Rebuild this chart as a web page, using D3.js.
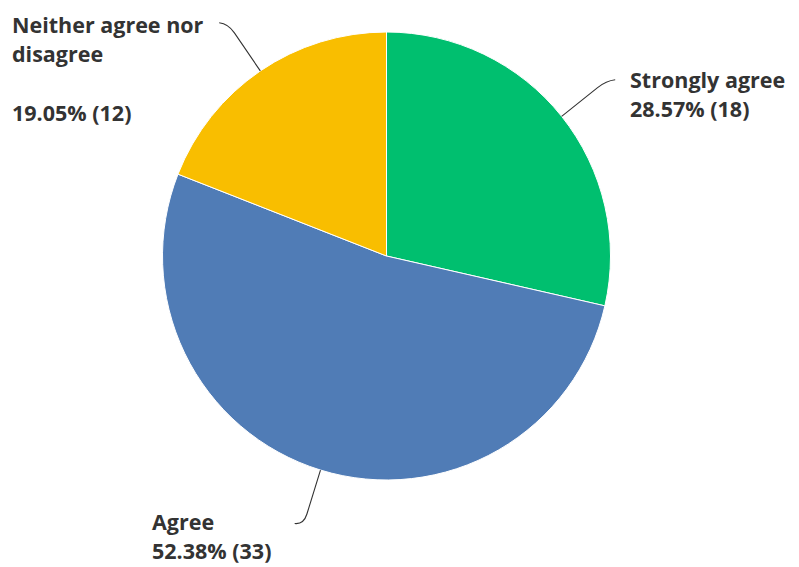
<!DOCTYPE html>
<html>
<head>
<meta charset="utf-8">
<script src="https://cdn.jsdelivr.net/npm/d3@7"></script>
<style>
  html, body { margin: 0; padding: 0; background: #fff; }
  svg text { font-family: "Open Sans", sans-serif; font-weight: 700; fill: #333; }
</style>
</head>
<body>
<svg id="chart" width="799" height="567"></svg>
<script>
// Survey response breakdown
const categories = ["Strongly agree", "Agree", "Neither agree nor disagree"];
const counts = [18, 33, 12];
const percents = ["28.57%", "52.38%", "19.05%"];
const colors = ["#00bf6f", "#507cb6", "#f9be00"];

const width = 799, height = 567;
const cx = 386.5, cy = 256, radius = 224;

const svg = d3.select("#chart");
const g = svg.append("g").attr("transform", `translate(${cx},${cy})`);

const pie = d3.pie().sort(null).value(d => d.count);
const data = categories.map((c, i) => ({ name: c, count: counts[i], pct: percents[i], color: colors[i] }));
const arcs = pie(data);

const arc = d3.arc().innerRadius(0).outerRadius(radius);

g.selectAll("path.slice")
  .data(arcs)
  .enter().append("path")
  .attr("class", "slice")
  .attr("d", arc)
  .attr("fill", d => d.data.color)
  .attr("stroke", "#fff")
  .attr("stroke-width", 1);

// Leader lines: radial segment ending in a short horizontal hook
const polar = (r, a) => [r * Math.sin(a), -r * Math.cos(a)];
g.selectAll("path.leader")
  .data(arcs)
  .enter().append("path")
  .attr("class", "leader")
  .attr("fill", "none")
  .attr("stroke", "#333")
  .attr("stroke-width", 1.1)
  .attr("d", d => {
    const a = (d.startAngle + d.endAngle) / 2;
    const p0 = polar(radius, a);
    const p1 = polar(radius + 46, a);
    const c = polar(radius + 57, a);
    const side = Math.sin(a) >= 0 ? 1 : -1;
    const p2 = [c[0] + side * 9, c[1] - 1];
    return `M${p0}L${p1}Q${c} ${p2}`;
  });

// Labels
const labelLayout = {
  "Strongly agree": { x: 630, y: 88, lines: d => [d.name, `${d.pct} (${d.count})`], gaps: [0, 29] },
  "Agree": { x: 152, y: 530, lines: d => [d.name, `${d.pct} (${d.count})`], gaps: [0, 29] },
  "Neither agree nor disagree": { x: 12, y: 33, lines: d => ["Neither agree nor", "disagree", `${d.pct} (${d.count})`], gaps: [0, 29, 88] }
};

arcs.forEach(d => {
  const L = labelLayout[d.data.name];
  const t = svg.append("text").attr("x", L.x).attr("y", L.y).attr("font-size", 21.5);
  L.lines(d.data).forEach((line, i) => {
    t.append("tspan").attr("x", L.x).attr("y", L.y + L.gaps[i]).text(line);
  });
});
</script>
</body>
</html>
